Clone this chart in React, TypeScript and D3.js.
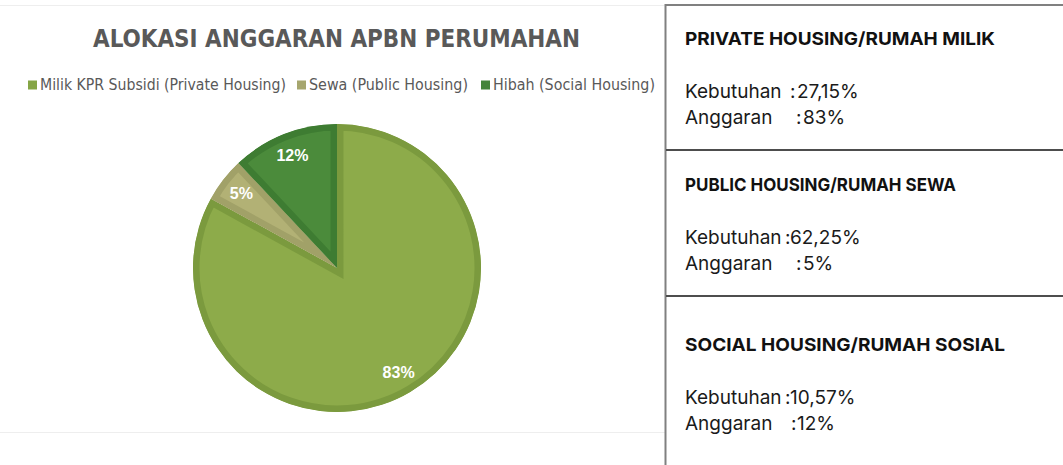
import React from "react";
import * as d3 from "d3";

const title = "ALOKASI ANGGARAN APBN PERUMAHAN";
const categories = [
  "Milik KPR Subsidi (Private Housing)",
  "Sewa (Public Housing)",
  "Hibah (Social Housing)",
];
const budgetShares = [83, 5, 12];
const fillColors = ["#8dab4a", "#b2b175", "#4b8b3b"];
const borderColors = ["#7b9a3e", "#a1a168", "#3e7c32"];
const legendColors = ["#85a545", "#a6a66e", "#44843a"];

const sectionTitles = [
  "PRIVATE HOUSING/RUMAH MILIK",
  "PUBLIC HOUSING/RUMAH SEWA",
  "SOCIAL HOUSING/RUMAH SOSIAL",
];
const needs = ["27,15%", "62,25%", "10,57%"];
const budgets = ["83%", "5%", "12%"];

const W = 1063;
const H = 465;

export default function App() {
  const cx = 337;
  const cy = 268;
  const R = 144;
  const pie = d3.pie<number>().sort(null).value((d) => d)(budgetShares);
  const arc = d3.arc<d3.PieArcDatum<number>>().innerRadius(0).outerRadius(R);
  const labelArc = d3
    .arc<d3.PieArcDatum<number>>()
    .innerRadius(121)
    .outerRadius(121);

  // legend layout
  const legendX = [28, 297, 481];
  const legendTextLen = [246, 159, 162];

  // right panel layout
  const headBase = [45, 191, 351];
  const headLen = [310, 271, 320];
  const colonX = [
    [790, 796],
    [785, 796],
    [785, 791],
  ];
  const valX = [
    [797, 803],
    [790, 803],
    [790, 797],
  ];

  const narrow =
    "'Liberation Sans Narrow', 'DejaVu Sans Condensed', 'Open Sans', sans-serif";
  const grot = "Inter, Roboto, 'Noto Sans', sans-serif";
  const bodySize = 19;

  return (
    <svg
      width={W}
      height={H}
      style={{ position: "absolute", left: 0, top: 0, background: "#fff" }}
    >
      <defs>
        {pie.map((d, i) => (
          <clipPath id={`clip${i}`} key={i}>
            <path d={arc(d) || ""} />
          </clipPath>
        ))}
      </defs>
      <rect x={0} y={0} width={W} height={H} fill="#fff" />
      {/* faint chart area edges */}
      <line x1={0} x2={665} y1={5.5} y2={5.5} stroke="#eeeeee" strokeWidth={1} />
      <line x1={0} x2={665} y1={432.5} y2={432.5} stroke="#eeeeee" strokeWidth={1} />

      <text
        x={336.5}
        y={47}
        textAnchor="middle"
        fontFamily={narrow}
        fontWeight="bold"
        fontSize={25}
        fill="#595959"
        textLength={487}
        lengthAdjust="spacingAndGlyphs"
      >
        {title}
      </text>

      {categories.map((c, i) => (
        <g key={c}>
          <rect x={legendX[i]} y={80.5} width={9} height={9} fill={legendColors[i]} />
          <text
            x={legendX[i] + 12}
            y={90}
            fontFamily={narrow}
            fontSize={15}
            fill="#595959"
            textLength={legendTextLen[i]}
            lengthAdjust="spacingAndGlyphs"
          >
            {c}
          </text>
        </g>
      ))}

      <g transform={`translate(${cx},${cy})`}>
        {pie.map((d, i) => (
          <path
            key={i}
            d={arc(d) || ""}
            fill={fillColors[i]}
            stroke={borderColors[i]}
            strokeWidth={13}
            strokeLinejoin="miter"
            clipPath={`url(#clip${i})`}
          />
        ))}
        {pie.map((d, i) => {
          const [lx, ly] = labelArc.centroid(d);
          return (
            <text
              key={`l${i}`}
              x={lx}
              y={ly}
              dy="0.35em"
              textAnchor="middle"
              fontFamily="'Liberation Sans', Arial, sans-serif"
              fontWeight="bold"
              fontSize={16}
              fill="#ffffff"
            >
              {budgets[i]}
            </text>
          );
        })}
      </g>

      {/* right panel */}
      <line x1={665.5} x2={665.5} y1={4} y2={H} stroke="#808080" strokeWidth={2} />
      <line x1={665} x2={W} y1={5} y2={5} stroke="#808080" strokeWidth={2} />
      <line x1={666} x2={W} y1={150} y2={150} stroke="#4d4d4d" strokeWidth={2} />
      <line x1={666} x2={W} y1={296} y2={296} stroke="#4d4d4d" strokeWidth={2} />

      {sectionTitles.map((t, i) => (
        <g key={t} fontFamily={grot} fontSize={bodySize} fill="#1a1a1a">
          <text
            x={685}
            y={headBase[i]}
            fontWeight="bold"
            fontSize={18}
            fill="#111111"
            textLength={headLen[i]}
            lengthAdjust="spacingAndGlyphs"
          >
            {t}
          </text>
          <text x={685} y={headBase[i] + 53}>Kebutuhan</text>
          <text x={colonX[i][0]} y={headBase[i] + 53}>:</text>
          <text x={valX[i][0]} y={headBase[i] + 53}>{needs[i]}</text>
          <text x={685} y={headBase[i] + 79}>Anggaran</text>
          <text x={colonX[i][1]} y={headBase[i] + 79}>:</text>
          <text x={valX[i][1]} y={headBase[i] + 79}>{budgets[i]}</text>
        </g>
      ))}
    </svg>
  );
}
